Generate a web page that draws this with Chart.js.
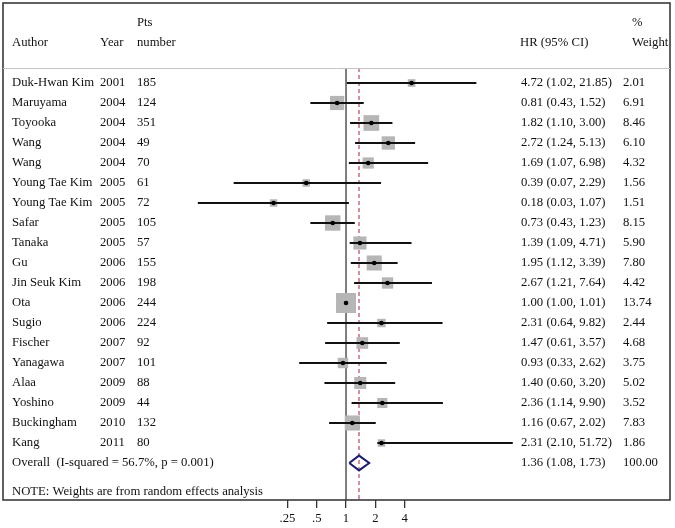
<!DOCTYPE html>
<html>
<head>
<meta charset="utf-8">
<script src="https://cdn.jsdelivr.net/npm/chart.js@4.4.1/dist/chart.umd.min.js"></script>
<style>
  body { margin: 0; background: #fff; }
  #wrap { width: 675px; height: 528px; }
</style>
</head>
<body>
<div id="wrap"><canvas id="forest"></canvas></div>
<script>
const authors = ["Duk-Hwan Kim", "Maruyama", "Toyooka", "Wang", "Wang", "Young Tae Kim", "Young Tae Kim",
  "Safar", "Tanaka", "Gu", "Jin Seuk Kim", "Ota", "Sugio", "Fischer", "Yanagawa", "Alaa", "Yoshino",
  "Buckingham", "Kang"];
const years = [2001, 2004, 2004, 2004, 2004, 2005, 2005, 2005, 2005, 2006, 2006, 2006, 2006, 2007, 2007,
  2009, 2009, 2010, 2011];
const ptsNumber = [185, 124, 351, 49, 70, 61, 72, 105, 57, 155, 198, 244, 224, 92, 101, 88, 44, 132, 80];
const hr = [4.72, 0.81, 1.82, 2.72, 1.69, 0.39, 0.18, 0.73, 1.39, 1.95, 2.67, 1.00, 2.31, 1.47, 0.93,
  1.40, 2.36, 1.16, 2.31];
const ciLow = [1.02, 0.43, 1.10, 1.24, 1.07, 0.07, 0.03, 0.43, 1.09, 1.12, 1.21, 1.00, 0.64, 0.61, 0.33,
  0.60, 1.14, 0.67, 2.10];
const ciHigh = [21.85, 1.52, 3.00, 5.13, 6.98, 2.29, 1.07, 1.23, 4.71, 3.39, 7.64, 1.01, 9.82, 3.57, 2.62,
  3.20, 9.90, 2.02, 51.72];
const weights = [2.01, 6.91, 8.46, 6.10, 4.32, 1.56, 1.51, 8.15, 5.90, 7.80, 4.42, 13.74, 2.44, 4.68, 3.75,
  5.02, 3.52, 7.83, 1.86];
const overall = { hr: 1.36, low: 1.08, high: 1.73, weight: "100.00" };
const overallLabel = "Overall  (I-squared = 56.7%, p = 0.001)";
const noteText = "NOTE: Weights are from random effects analysis";
const xTicks = [0.25, 0.5, 1, 2, 4];
const xTickLabels = [".25", ".5", "1", "2", "4"];

const n = authors.length;
const fmt = v => v.toFixed(2);
const FAMILY = '"Liberation Serif", "Times New Roman", serif';
const FONT = '12.7px ' + FAMILY;
const TEXT = "#111";

// CI segments, broken by null points
const ciData = [];
hr.forEach((h, i) => {
  ciData.push({ x: ciLow[i], y: i }, { x: ciHigh[i], y: i }, { x: ciHigh[i], y: null });
});
const boxData = hr.map((h, i) => ({ x: h, y: i }));
const boxRadius = weights.map(w => Math.max(7.5, 5.4 * Math.sqrt(w)) / Math.SQRT2);
const dh = 0.37;
const diamond = [
  { x: overall.low, y: n }, { x: overall.hr, y: n - dh }, { x: overall.high, y: n },
  { x: overall.hr, y: n + dh }, { x: overall.low, y: n }
];
const topRow = -0.75, bottomRow = 20.85;

const textPlugin = {
  id: "forestText",
  afterDraw(chart) {
    const { ctx, chartArea: a } = chart;
    const ys = chart.scales.y;
    ctx.save();
    // frame
    ctx.strokeStyle = "#3a3a3a";
    ctx.lineWidth = 1.6;
    ctx.strokeRect(a.left, a.top, a.right - a.left, a.bottom - a.top);
    // header separator
    ctx.strokeStyle = "#c4c4c4";
    ctx.lineWidth = 1;
    const hy = Math.round(ys.getPixelForValue(topRow)) + 0.5;
    ctx.beginPath(); ctx.moveTo(a.left, hy); ctx.lineTo(a.right, hy); ctx.stroke();

    ctx.font = FONT;
    ctx.fillStyle = TEXT;
    ctx.textBaseline = "middle";
    ctx.textAlign = "left";
    const rowY = r => ys.getPixelForValue(r);
    // headers
    ctx.fillText("Pts", 137, rowY(-3));
    ctx.fillText("%", 632, rowY(-3));
    ctx.fillText("Author", 12, rowY(-2));
    ctx.fillText("Year", 100, rowY(-2));
    ctx.fillText("number", 137, rowY(-2));
    ctx.fillText("HR (95% CI)", 520, rowY(-2));
    ctx.fillText("Weight", 632, rowY(-2));

    const putHR = (txt, w, r) => {
      ctx.fillText(txt, 521, rowY(r));
      const end = 521 + ctx.measureText(txt).width;
      ctx.fillText(w, Math.max(623, end + 4), rowY(r));
    };
    for (let i = 0; i < n; i++) {
      const y = rowY(i);
      ctx.fillText(authors[i], 12, y);
      ctx.fillText(String(years[i]), 100, y);
      ctx.fillText(String(ptsNumber[i]), 137, y);
      putHR(`${fmt(hr[i])} (${fmt(ciLow[i])}, ${fmt(ciHigh[i])})`, fmt(weights[i]), i);
    }
    ctx.fillText(overallLabel, 12, rowY(n));
    putHR(`${fmt(overall.hr)} (${fmt(overall.low)}, ${fmt(overall.high)})`, overall.weight, n);
    ctx.fillText(noteText, 12, rowY(20.45));
    ctx.restore();
  }
};

new Chart(document.getElementById("forest"), {
  type: "scatter",
  data: {
    datasets: [
      { label: "point", data: boxData, pointStyle: "circle", pointRadius: 2.3,
        backgroundColor: "#000", borderWidth: 0, order: 0 },
      { label: "ci", data: ciData, showLine: true, spanGaps: false, pointRadius: 0,
        borderColor: "#111", borderWidth: 2, order: 1 },
      { label: "box", data: boxData, pointStyle: "rect", pointRadius: boxRadius,
        backgroundColor: "#b6b6b6", borderWidth: 0, order: 2 },
      { label: "overall", data: diamond, showLine: true, pointRadius: 0,
        borderColor: "#1d1d6e", borderWidth: 2, order: 0 },
      { label: "null", data: [{ x: 1, y: topRow }, { x: 1, y: bottomRow }], showLine: true, pointRadius: 0,
        borderColor: "#555", borderWidth: 1.5, order: 3 },
      { label: "pooled", data: [{ x: overall.hr, y: topRow }, { x: overall.hr, y: bottomRow }], showLine: true,
        pointRadius: 0, borderColor: "#c04858", borderWidth: 1.2, borderDash: [4, 3], order: 3 }
    ]
  },
  options: {
    responsive: true,
    maintainAspectRatio: false,
    animation: false,
    layout: { autoPadding: false, padding: { left: 3, right: 5, top: 3, bottom: 0 } },
    plugins: { legend: { display: false }, tooltip: { enabled: false } },
    scales: {
      x: {
        type: "logarithmic",
        min: Math.pow(2, -11.71),
        max: Math.pow(2, 11.06),
        afterBuildTicks: s => { s.ticks = xTicks.map(v => ({ value: v })); },
        afterFit: s => { s.height = 28; s.paddingLeft = 0; s.paddingRight = 0; },
        border: { display: false },
        grid: { drawOnChartArea: false, drawTicks: true, tickLength: 8, color: "#333", lineWidth: 1.3 },
        ticks: {
          autoSkip: false, maxRotation: 0, padding: 3, color: TEXT,
          font: { family: FAMILY, size: 12.7 },
          callback: v => { const k = xTicks.indexOf(v); return k >= 0 ? xTickLabels[k] : ""; }
        }
      },
      y: { type: "linear", display: false, reverse: true, min: -4, max: bottomRow }
    }
  },
  plugins: [textPlugin]
});
</script>
</body>
</html>
